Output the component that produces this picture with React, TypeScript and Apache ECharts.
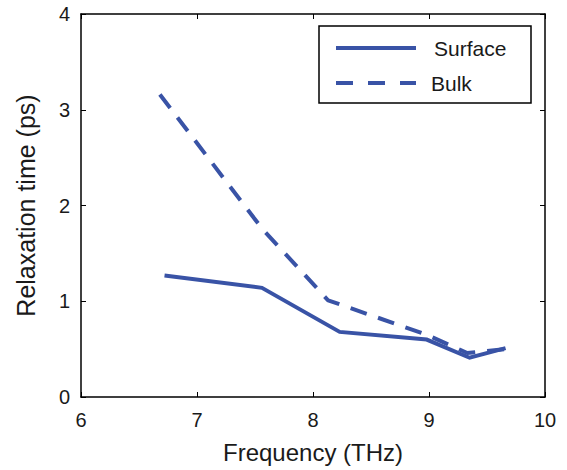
import React, { useEffect, useRef } from "react";
import * as echarts from "echarts";

const surfaceX = [6.72, 7.56, 8.23, 8.98, 9.35, 9.66];
const surfaceY = [1.27, 1.14, 0.68, 0.6, 0.41, 0.51];
const bulkX = [6.68, 7.56, 8.13, 8.98, 9.33, 9.66];
const bulkY = [3.16, 1.76, 1.01, 0.65, 0.46, 0.5];
const xTicks = [6, 7, 8, 9, 10];
const yTicks = [0, 1, 2, 3, 4];
const seriesNames = ["Surface", "Bulk"];

const COLOR = "#3953a6";
const FONT = "Liberation Sans, Arial, sans-serif";

export default function App() {
  const ref = useRef<HTMLDivElement>(null);
  useEffect(() => {
    if (!ref.current) return;
    const chart = echarts.init(ref.current, null, { renderer: "svg" });
    const axisCommon = {
      axisLine: { show: true, onZero: false, lineStyle: { color: "#000", width: 1.5 } },
      axisTick: { show: true, inside: true, length: 5, lineStyle: { color: "#000", width: 1 } },
      splitLine: { show: false },
    };
    chart.setOption({
      animation: false,
      backgroundColor: "#fff",
      grid: { left: 81, right: 22, top: 14, bottom: 73, containLabel: false, outerBoundsMode: "none" },
      xAxis: [
        {
          type: "value",
          min: xTicks[0],
          max: xTicks[xTicks.length - 1],
          interval: 1,
          position: "bottom",
          name: "Frequency (THz)",
          nameLocation: "middle",
          nameGap: 43,
          nameTextStyle: { fontFamily: FONT, fontSize: 24, color: "#1a1a1a" },
          axisLabel: { fontFamily: FONT, fontSize: 20, color: "#1a1a1a", margin: 13 },
          ...axisCommon,
        },
        {
          type: "value",
          min: xTicks[0],
          max: xTicks[xTicks.length - 1],
          interval: 1,
          position: "top",
          axisLabel: { show: false },
          ...axisCommon,
        },
      ],
      yAxis: [
        {
          type: "value",
          min: yTicks[0],
          max: yTicks[yTicks.length - 1],
          interval: 1,
          position: "left",
          name: "Relaxation time (ps)",
          nameLocation: "middle",
          nameGap: 43,
          nameTextStyle: { fontFamily: FONT, fontSize: 25, color: "#1a1a1a" },
          axisLabel: { fontFamily: FONT, fontSize: 20, color: "#1a1a1a", margin: 11 },
          ...axisCommon,
        },
        {
          type: "value",
          min: yTicks[0],
          max: yTicks[yTicks.length - 1],
          interval: 1,
          position: "right",
          axisLabel: { show: false },
          ...axisCommon,
        },
      ],
      series: [
        {
          name: seriesNames[0],
          type: "line",
          symbol: "none",
          data: surfaceX.map((x, i) => [x, surfaceY[i]]),
          lineStyle: { color: COLOR, width: 4, join: "miter" },
          z: 3,
        },
        {
          name: seriesNames[1],
          type: "line",
          symbol: "none",
          data: bulkX.map((x, i) => [x, bulkY[i]]),
          lineStyle: { color: COLOR, width: 4, type: [17, 12], cap: "butt" },
          z: 2,
        },
      ],
      graphic: [
        {
          type: "rect",
          shape: { x: 319, y: 26, width: 212, height: 77 },
          style: { fill: "#fff", stroke: "#000", lineWidth: 1.5 },
          z: 10,
        },
        {
          type: "line",
          shape: { x1: 336, y1: 48, x2: 416, y2: 48 },
          style: { stroke: COLOR, lineWidth: 4 },
          z: 11,
        },
        {
          type: "line",
          shape: { x1: 336, y1: 83, x2: 416, y2: 83 },
          style: { stroke: COLOR, lineWidth: 4, lineDash: [17, 15] },
          z: 11,
        },
        {
          type: "text",
          x: 434,
          y: 48,
          style: { text: seriesNames[0], fontFamily: FONT, fontSize: 21, fill: "#1a1a1a", verticalAlign: "middle" },
          z: 11,
        },
        {
          type: "text",
          x: 431,
          y: 83,
          style: { text: seriesNames[1], fontFamily: FONT, fontSize: 21, fill: "#1a1a1a", verticalAlign: "middle" },
          z: 11,
        },
      ],
    });
    return () => chart.dispose();
  }, []);
  return <div ref={ref} style={{ width: 567, height: 470, position: "absolute", left: 0, top: 0 }} />;
}
